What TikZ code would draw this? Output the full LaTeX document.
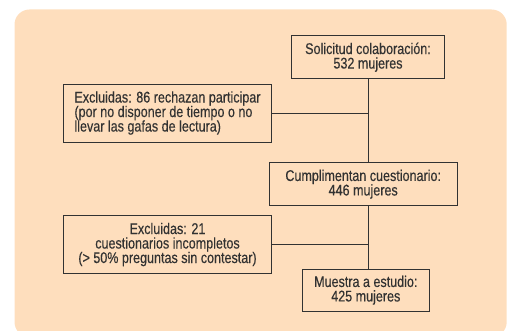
\documentclass[tikz,border=0pt]{standalone}
\usepackage{fontspec}
\setmainfont[FakeStretch=0.81, FakeBold=0.3]{Liberation Sans}
\usepackage{tikz}

\definecolor{peach}{RGB}{254,222,189}
\definecolor{inkgray}{RGB}{50,50,50}

\begin{document}
\begin{tikzpicture}[x=1pt, y=1pt,
	every node/.style={draw=inkgray, line width=0.9pt, text=inkgray, inner sep=0pt,
		font=\fontsize{15.5}{14.5}\selectfont}]
	\tikzset{flowbox/.style={align=center}}
	\tikzset{sidebox/.style={align=left}}
	\useasboundingbox (0,0) rectangle (511,-331);
	\clip (0,0) rectangle (511,-331);
	\fill[peach, rounded corners=15pt] (14.5,-9.5) rectangle (506.7,-337);
	\node[flowbox, minimum width=152.6pt, minimum height=43pt]  (solicitud)  at (368,-57.2)   {Solicitud colaboración:\\532 mujeres};
	\node[sidebox, minimum width=208.4pt, minimum height=58pt]  (rechazan)   at (167.5,-113)  {Excluidas: 86 rechazan participar\\(por no disponer de tiempo o no\\llevar las gafas de lectura)};
	\node[flowbox, minimum width=187.7pt, minimum height=43pt]  (cuestion)   at (363.2,-184.2) {Cumplimentan cuestionario:\\446 mujeres};
	\node[flowbox, minimum width=208.4pt, minimum height=57.6pt] (incompleto) at (167.5,-244.5) {Excluidas: 21\\cuestionarios incompletos\\(> 50\% preguntas sin contestar)};
	\node[flowbox, minimum width=127.7pt, minimum height=42.3pt] (muestra)    at (365.8,-290.2) {Muestra a estudio:\\425 mujeres};
	\coordinate (trunk) at (solicitud.south);
	\foreach \from/\to in {
		solicitud/cuestion,
		cuestion/muestra}
	\draw[inkgray, line width=0.9pt] (trunk |- \from.south) -- (trunk |- \to.north);
	\draw[inkgray, line width=0.9pt] (rechazan.east) -- (rechazan.east -| trunk);
	\draw[inkgray, line width=0.9pt] (incompleto.east) -- (incompleto.east -| trunk);
\end{tikzpicture}
\end{document}
